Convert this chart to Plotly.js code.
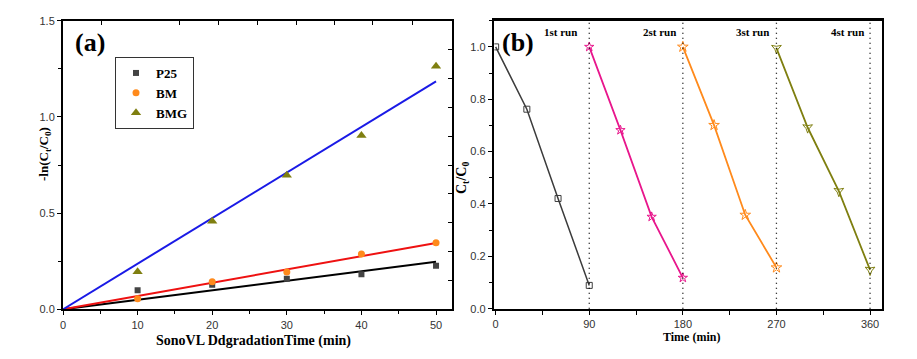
<!DOCTYPE html>
<html><head><meta charset="utf-8">
<script src="https://cdn.plot.ly/plotly-3.0.1.min.js"></script>
<style>html,body{margin:0;padding:0;background:#fff}#c{width:917px;height:359px}</style>
</head><body><div id="c"></div>
<script>
// Panel (a) data
const timeA = [10, 20, 30, 40, 50];
const p25 = [0.099, 0.128, 0.159, 0.182, 0.226];
const bm = [0.055, 0.143, 0.194, 0.287, 0.346];
const bmg = [0.195, 0.458, 0.697, 0.903, 1.263];
const fitX = [0, 50];
const fitP25 = [0, 0.247];
const fitBM = [0, 0.345];
const fitBMG = [0, 1.185];
const seriesNames = ['P25', 'BM', 'BMG'];
// Panel (b) data
const run1X = [0, 30, 60, 90];
const run1Y = [1.0, 0.762, 0.421, 0.089];
const run2X = [90, 120, 150, 180];
const run2Y = [1.0, 0.682, 0.351, 0.118];
const run3X = [180, 210, 240, 270];
const run3Y = [1.0, 0.701, 0.358, 0.157];
const run4X = [270, 300, 330, 360];
const run4Y = [0.995, 0.692, 0.449, 0.148];
const runEnds = [90, 180, 270, 360];
const runLabels = ['1st run', '2st run', '3st run', '4st run'];
const topTicksA = [5.15, 15.66, 20.9, 26.1, 31.3, 36.4, 41.5, 46.8];
const rightTicksA = [0.15, 0.30, 0.45, 0.60, 0.75, 0.90, 1.05, 1.20, 1.35];

const serif = 'Liberation Serif, Times New Roman, serif';
const sans = 'Liberation Sans, Arial, sans-serif';

const traces = [
  {x: fitX, y: fitP25, mode: 'lines', line: {color: '#000000', width: 2}, showlegend: false, xaxis: 'x', yaxis: 'y'},
  {x: fitX, y: fitBM, mode: 'lines', line: {color: '#ee1111', width: 2}, showlegend: false, xaxis: 'x', yaxis: 'y'},
  {x: fitX, y: fitBMG, mode: 'lines', line: {color: '#1a1ae6', width: 2}, showlegend: false, xaxis: 'x', yaxis: 'y'},
  {x: timeA, y: p25, name: seriesNames[0], mode: 'markers', marker: {symbol: 'square', size: 6, color: '#444444'}, xaxis: 'x', yaxis: 'y'},
  {x: timeA, y: bm, name: seriesNames[1], mode: 'markers', marker: {symbol: 'circle', size: 7, color: '#ff8a1c'}, xaxis: 'x', yaxis: 'y'},
  {x: timeA, y: bmg, name: seriesNames[2], mode: 'markers', marker: {symbol: 'triangle-up', size: 9, color: '#7f7f10'}, xaxis: 'x', yaxis: 'y'},
  {x: run1X, y: run1Y, mode: 'lines+markers', showlegend: false, line: {color: '#3c3c3c', width: 1.5}, marker: {symbol: 'square-open', size: 6, color: '#3c3c3c'}, xaxis: 'x2', yaxis: 'y2'},
  {x: run2X, y: run2Y, mode: 'lines+markers', showlegend: false, line: {color: '#e8168c', width: 1.8}, marker: {symbol: 'star-open', size: 7, color: '#e8168c'}, xaxis: 'x2', yaxis: 'y2'},
  {x: run3X, y: run3Y, mode: 'lines+markers', showlegend: false, line: {color: '#ff8a1c', width: 1.8}, marker: {symbol: 'star-open', size: 8, color: '#ff8a1c'}, xaxis: 'x2', yaxis: 'y2'},
  {x: run4X, y: run4Y, mode: 'lines+markers', showlegend: false, line: {color: '#7f7f10', width: 1.8}, marker: {symbol: 'star-triangle-down-open', size: 7, color: '#7f7f10'}, xaxis: 'x2', yaxis: 'y2'}
];

const axFont = {family: sans, size: 11, color: '#333'};
const shapes = runEnds.map(v => ({type: 'line', xref: 'x2', yref: 'y2 domain', x0: v, x1: v, y0: 0, y1: 1, line: {color: '#000', width: 1.3, dash: '1px,4px'}}));
const labelShift = [-10, -5, -5, -4];
const annotations = [
  {text: '<b>(a)</b>', xref: 'paper', yref: 'paper', x: 73/917, y: 1 - 43/359, xanchor: 'left', yanchor: 'middle', showarrow: false, font: {family: serif, size: 26, color: '#000'}},
  {text: '<b>(b)</b>', xref: 'paper', yref: 'paper', x: 500/917, y: 1 - 43/359, xanchor: 'left', yanchor: 'middle', showarrow: false, font: {family: serif, size: 26, color: '#000'}},
  {text: '<b>-ln(C<sub>t</sub>/C<sub>0</sub>)</b>', xref: 'paper', yref: 'paper', x: 44/917, y: 1 - 154/359, textangle: -90, xanchor: 'center', yanchor: 'middle', showarrow: false, font: {family: serif, size: 13, color: '#000'}},
  {text: '<b>SonoVL DdgradationTime (min)</b>', xref: 'paper', yref: 'paper', x: 253/917, y: 1 - 341/359, xanchor: 'center', yanchor: 'middle', showarrow: false, font: {family: serif, size: 14, color: '#000'}},
  {text: '<b>C<sub>t</sub>/C<sub>0</sub></b>', xref: 'paper', yref: 'paper', x: 462/917, y: 1 - 178/359, textangle: -90, xanchor: 'center', yanchor: 'middle', showarrow: false, font: {family: serif, size: 14, color: '#000'}},
  {text: '<b>Time (min)</b>', xref: 'paper', yref: 'paper', x: 691/917, y: 1 - 337/359, xanchor: 'center', yanchor: 'middle', showarrow: false, font: {family: serif, size: 12, color: '#000'}}
].concat(runEnds.map((v, i) => ({text: '<b>' + runLabels[i] + '</b>', xref: 'x2', yref: 'paper', x: v, xshift: labelShift[i], y: 1 - 32/359, xanchor: 'right', yanchor: 'middle', showarrow: false, font: {family: serif, size: 11, color: '#000'}})));

const layout = {
  width: 917, height: 359,
  margin: {l: 0, r: 0, t: 0, b: 0},
  paper_bgcolor: '#fff', plot_bgcolor: '#fff',
  showlegend: true,
  legend: {x: 115/917, y: 1 - 57/359, xanchor: 'left', yanchor: 'top', bordercolor: '#333', borderwidth: 1, bgcolor: '#fff',
    font: {family: serif, size: 13, color: '#000', weight: 'bold'}, itemwidth: 30, tracegroupgap: 2},
  xaxis: {domain: [63/917, 451.7/917], anchor: 'y', range: [0, 52.1], tickvals: [0, 10, 20, 30, 40, 50], showgrid: false, zeroline: false,
    showline: true, linecolor: '#000', linewidth: 2, mirror: true, ticks: 'outside', ticklen: 4, tickcolor: '#000', tickfont: axFont,
    minor: {dtick: 5, tick0: 0, ticks: 'outside', ticklen: 3, tickcolor: '#000'}},
  yaxis: {domain: [1 - 309.3/359, 1 - 20.7/359], anchor: 'x', range: [0, 1.5], tickvals: [0, 0.5, 1.0, 1.5], ticktext: ['0.0', '0.5', '1.0', '1.5'], showgrid: false, zeroline: false,
    showline: true, linecolor: '#000', linewidth: 2, mirror: true, ticks: 'outside', ticklen: 4, tickcolor: '#000', tickfont: axFont,
    minor: {dtick: 0.25, tick0: 0, ticks: 'outside', ticklen: 3, tickcolor: '#000'}},
  xaxis3: {overlaying: 'x', anchor: 'y', side: 'top', range: [0, 52.1], tickvals: topTicksA, showticklabels: false, ticks: 'inside', ticklen: 4, tickcolor: '#000', showgrid: false, zeroline: false, showline: false},
  yaxis3: {overlaying: 'y', anchor: 'x', side: 'right', range: [0, 1.5], tickvals: rightTicksA, showticklabels: false, ticks: 'inside', ticklen: 4, tickcolor: '#000', showgrid: false, zeroline: false, showline: false},
  xaxis2: {domain: [494.3/917, 881.7/917], anchor: 'y2', range: [-1.3, 371.2], tickvals: [0, 90, 180, 270, 360], showgrid: false, zeroline: false,
    showline: true, linecolor: '#000', linewidth: 2.5, mirror: true, ticks: 'outside', ticklen: 4, tickcolor: '#000', tickfont: axFont,
    minor: {dtick: 45, tick0: 0, ticks: 'outside', ticklen: 4, tickcolor: '#000'}},
  yaxis2: {domain: [1 - 308.7/359, 1 - 20.7/359], anchor: 'x2', range: [0, 1.1], tickvals: [0, 0.2, 0.4, 0.6, 0.8, 1.0], ticktext: ['0.0', '0.2', '0.4', '0.6', '0.8', '1.0'], showgrid: false, zeroline: false,
    showline: true, linecolor: '#000', linewidth: 2.5, mirror: true, ticks: 'outside', ticklen: 4, tickcolor: '#000', tickfont: axFont,
    minor: {dtick: 0.1, tick0: 0, ticks: 'outside', ticklen: 3, tickcolor: '#000'}},
  shapes: shapes,
  annotations: annotations
};
traces.push({x: [], y: [], xaxis: 'x3', yaxis: 'y3', showlegend: false, hoverinfo: 'skip'});
Plotly.newPlot('c', traces, layout, {staticPlot: true, displayModeBar: false});
</script></body></html>
